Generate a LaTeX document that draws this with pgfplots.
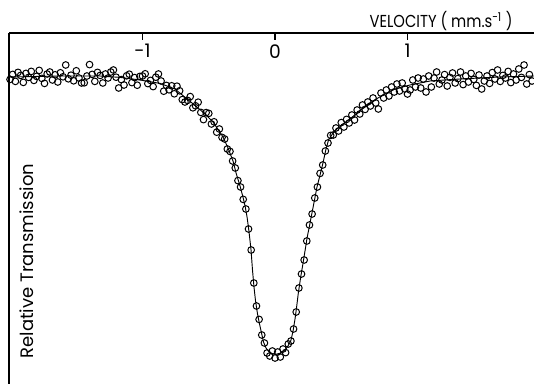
\documentclass[border=0pt]{standalone}
\usepackage{pgfplots}
\pgfplotsset{compat=1.18}
\usepackage{pgfplotstable}
\usepackage{fontspec}
\setmainfont{Poppins}
\newfontfamily\condfont[FakeStretch=0.85]{Poppins}

\pgfplotstableread{
v T
-2.00 99.88
-1.98 100.13
-1.96 99.78
-1.94 100.23
-1.92 100.08
-1.90 99.73
-1.88 100.18
-1.86 99.98
-1.84 100.28
-1.82 99.83
-1.80 100.03
-1.78 100.33
-1.76 99.93
-1.74 99.68
-1.72 100.15
-1.70 100.25
-1.68 99.85
-1.66 100.11
-1.64 99.75
-1.62 100.21
-1.60 100.01
-1.58 100.60
-1.56 99.91
-1.54 100.09
-1.52 99.81
-1.50 100.31
-1.48 99.95
-1.46 99.70
-1.44 99.71
-1.42 100.05
-1.40 100.62
-1.38 100.13
-1.36 99.78
-1.34 100.23
-1.32 100.08
-1.30 99.70
-1.28 100.15
-1.26 99.95
-1.24 100.25
-1.22 100.35
-1.20 99.99
-1.18 99.45
-1.16 99.87
-1.14 99.60
-1.12 100.06
-1.10 100.14
-1.08 99.72
-1.06 99.97
-1.04 99.59
-1.02 100.03
-1.00 100.05
-0.98 100.16
-0.96 99.67
-0.94 99.83
-0.92 99.52
-0.90 99.99
-0.88 100.15
-0.86 99.80
-0.84 99.29
-0.82 99.58
-0.80 99.36
-0.78 99.56
-0.76 99.16
-0.74 99.54
-0.72 99.31
-0.70 98.87
-0.68 98.75
-0.66 98.83
-0.64 99.02
-0.62 98.46
-0.60 98.56
-0.58 98.74
-0.56 98.23
-0.54 97.87
-0.52 98.22
-0.50 98.18
-0.48 97.65
-0.46 97.76
-0.44 97.24
-0.42 97.40
-0.40 96.98
-0.38 96.90
-0.36 96.40
-0.34 96.28
-0.32 95.80
-0.30 95.45
-0.28 94.82
-0.26 94.50
-0.24 93.88
-0.22 93.40
-0.20 92.40
-0.18 91.35
-0.16 89.70
-0.14 88.55
-0.12 87.88
-0.10 87.10
-0.08 86.70
-0.06 86.20
-0.04 86.05
-0.02 86.30
0.00 85.95
0.02 86.25
0.04 86.00
0.06 86.40
0.08 86.22
0.10 86.65
0.12 86.80
0.14 87.40
0.16 88.25
0.18 89.45
0.20 90.15
0.22 90.85
0.24 91.80
0.26 92.60
0.28 93.15
0.30 93.95
0.32 94.50
0.34 95.18
0.36 95.60
0.38 96.30
0.40 96.70
0.42 97.08
0.44 97.10
0.46 97.45
0.48 97.30
0.50 97.72
0.52 97.50
0.54 97.88
0.56 97.70
0.58 98.10
0.60 97.85
0.62 98.35
0.64 98.15
0.66 98.60
0.68 98.38
0.70 98.75
0.72 98.55
0.74 98.95
0.76 98.70
0.78 98.40
0.80 99.20
0.82 98.95
0.84 99.35
0.86 99.05
0.88 99.50
0.90 99.25
0.92 99.65
0.94 99.30
0.96 99.70
0.98 99.40
1.00 99.15
1.02 99.35
1.04 99.85
1.06 99.50
1.08 99.95
1.10 99.45
1.12 99.90
1.14 99.25
1.16 100.05
1.18 99.50
1.20 99.95
1.22 100.25
1.24 99.65
1.26 99.85
1.28 100.12
1.30 99.55
1.32 99.98
1.34 100.20
1.36 99.70
1.38 99.92
1.40 100.25
1.42 99.62
1.44 100.05
1.46 99.75
1.48 100.18
1.50 99.88
1.52 99.58
1.54 100.10
1.56 99.40
1.58 99.80
1.60 100.05
1.62 99.68
1.64 100.22
1.66 99.90
1.68 100.35
1.70 99.78
1.72 100.08
1.74 99.95
1.76 100.28
1.78 99.72
1.80 100.15
1.82 99.85
1.84 100.40
1.86 99.98
1.88 100.60
1.90 99.65
1.92 100.12
1.94 99.80
}\datatable

\pgfplotstableread{
v T
-2.008 100.00
-1.623 100.05
-1.321 100.05
-1.170 99.98
-1.019 99.85
-0.868 99.68
-0.755 99.40
-0.664 98.90
-0.589 98.50
-0.528 98.15
-0.468 97.75
-0.392 97.00
-0.355 96.45
-0.317 95.80
-0.294 95.20
-0.264 94.55
-0.242 94.00
-0.226 93.55
-0.211 93.00
-0.196 92.25
-0.181 91.35
-0.170 90.35
-0.158 89.45
-0.147 88.80
-0.132 88.15
-0.117 87.65
-0.102 87.20
-0.087 86.75
-0.068 86.45
-0.045 86.25
-0.015 86.15
0.015 86.15
0.045 86.20
0.075 86.35
0.098 86.55
0.121 86.85
0.136 87.30
0.151 87.90
0.164 88.55
0.176 89.20
0.194 90.00
0.208 90.55
0.219 91.00
0.230 91.45
0.242 91.95
0.260 92.55
0.279 93.20
0.298 93.85
0.317 94.50
0.340 95.10
0.362 95.70
0.385 96.40
0.404 96.85
0.438 97.20
0.468 97.40
0.513 97.65
0.566 97.90
0.619 98.20
0.679 98.50
0.740 98.80
0.815 99.10
0.906 99.40
1.019 99.60
1.170 99.80
1.396 99.90
1.698 100.00
1.955 100.05
}\fittable

\begin{document}
\begin{tikzpicture}
\begin{axis}[
  scale only axis, width=393.75pt, height=263.25pt,
  xmin=-2.008, xmax=1.955, ymin=84.65, ymax=102.2,
  separate axis lines,
  axis x line*=top, axis y line*=left,
  axis line style={line width=1.4pt, -},
  ytick=\empty,
  xtick={-1,0,1}, xticklabels={-1,0,1},
  tick align=inside, major tick length=5pt,
  tick style={line width=0.9pt, black},
  xticklabel style={anchor=north, yshift=-5pt, font=\fontsize{14}{16}\selectfont},
]
\addplot[only marks, mark=o, mark size=2.5pt, mark options={line width=0.75pt, black}] table {\datatable};
\addplot[black, line width=0.7pt, mark=none] table {\fittable};
\coordinate (SW) at (rel axis cs:0,0);
\coordinate (NE) at (rel axis cs:1,1);
\node[rotate=90, font=\fontsize{13.5}{16}\selectfont] at ([xshift=13.5pt]rel axis cs:0,0.35) {Relative Transmission};
\end{axis}
\node[font=\fontsize{13}{15}\selectfont] at ([xshift=-69.7pt,yshift=9pt]NE) {\condfont VELOCITY ( mm.s\textsuperscript{-1} )};
\pgfresetboundingbox
\path[use as bounding box] (SW) ++(-6.75pt,0) rectangle ([yshift=24.75pt]NE);
\end{tikzpicture}
\end{document}
